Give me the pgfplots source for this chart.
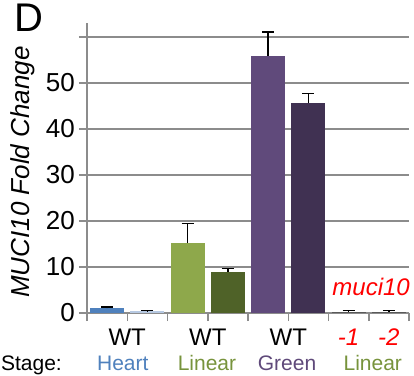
\documentclass[border=0pt]{standalone}
\usepackage{pgfplots}
\pgfplotsset{compat=1.18}
\usepackage{fontspec}
\setmainfont{Liberation Sans}
\definecolor{gridgray}{HTML}{8C8C8C}
\definecolor{cblue}{HTML}{4F81BD}
\definecolor{cpale}{HTML}{B7C9E2}
\definecolor{cgreen}{HTML}{8EA84B}
\definecolor{cdgreen}{HTML}{4F6228}
\definecolor{cpurple}{HTML}{604A7B}
\definecolor{cdpurple}{HTML}{403152}
\definecolor{cgrey}{HTML}{595959}
\definecolor{tgreen}{HTML}{77933C}
\definecolor{tpurple}{HTML}{5F497A}
\begin{document}
\begin{tikzpicture}
\begin{axis}[
  scale only axis, width=322pt, height=290pt,
  xmin=0, xmax=8, ymin=0, ymax=63,
  axis x line=bottom, axis y line=left,
  axis line style={-, draw=gridgray, line width=1.5pt},
  xtick={0,...,8}, xticklabels={},
  ytick={0,10,20,30,40,50,60}, yticklabels={0,10,20,30,40,50,{}},
  tick align=outside, major tick length=8pt,
  tick style={draw=gridgray, line width=1.5pt},
  ymajorgrids, grid style={draw=gridgray, line width=1.5pt},
  yticklabel style={font=\fontsize{26}{26}\selectfont, inner sep=0pt, xshift=-4pt},
  clip=false,
  every axis plot/.append style={ybar, bar width=0.84, bar shift=0pt, draw=none,
    error bars/y dir=plus, error bars/y explicit,
    error bars/error bar style={black, line width=1.5pt},
    error bars/error mark options={black, line width=1.5pt, mark size=6pt, rotate=90}},
]
\addplot[fill=cblue] coordinates {(0.5,1.0) +- (0,0.35)};
\addplot[fill=cpale] coordinates {(1.5,0.35) +- (0,0.15)};
\addplot[fill=cgreen] coordinates {(2.5,15.2) +- (0,4.2)};
\addplot[fill=cdgreen] coordinates {(3.5,9.0) +- (0,0.7)};
\addplot[fill=cpurple] coordinates {(4.5,55.9) +- (0,5.1)};
\addplot[fill=cdpurple] coordinates {(5.5,45.7) +- (0,2.0)};
\addplot[fill=cgrey] coordinates {(6.5,0.3) +- (0,0.2)};
\addplot[fill=cgrey] coordinates {(7.5,0.3) +- (0,0.2)};

\node[rotate=90, font=\fontsize{26}{26}\selectfont\itshape] at (axis cs:-1.59,30.6) {MUCI10 Fold Change};
\node[font=\fontsize{40}{40}\selectfont, anchor=base] at (axis cs:-1.44,61.1) {D};
\node[anchor=base, text=red, font=\fontsize{24}{24}\selectfont\itshape] at (axis cs:7.06,3.9) {muci10};
\node[font=\fontsize{24}{24}\selectfont, anchor=base] at (axis cs:1,-6.96) {WT};
\node[font=\fontsize{24}{24}\selectfont, anchor=base] at (axis cs:3,-6.96) {WT};
\node[font=\fontsize{24}{24}\selectfont, anchor=base] at (axis cs:5,-6.96) {WT};
\node[font=\fontsize{24}{24}\selectfont\itshape, anchor=base, text=red] at (axis cs:6.5,-6.96) {-1};
\node[font=\fontsize{24}{24}\selectfont\itshape, anchor=base, text=red] at (axis cs:7.5,-6.96) {-2};
\node[font=\fontsize{21}{21}\selectfont, anchor=base west, inner sep=0pt] at (axis cs:-2.14,-12.5) {Stage:};
\node[font=\fontsize{21}{21}\selectfont, anchor=base, inner sep=0pt, text=cblue] at (axis cs:0.89,-12.5) {Heart};
\node[font=\fontsize{21}{21}\selectfont, anchor=base, inner sep=0pt, text=tgreen] at (axis cs:2.98,-12.5) {Linear};
\node[font=\fontsize{21}{21}\selectfont, anchor=base, inner sep=0pt, text=tpurple] at (axis cs:4.97,-12.5) {Green};
\node[font=\fontsize{21}{21}\selectfont, anchor=base, inner sep=0pt, text=tgreen] at (axis cs:7.1,-12.5) {Linear};
\end{axis}
\pgfresetboundingbox
\path[use as bounding box] (-87pt,-62pt) rectangle (327pt,313pt);
\end{tikzpicture}
\end{document}
